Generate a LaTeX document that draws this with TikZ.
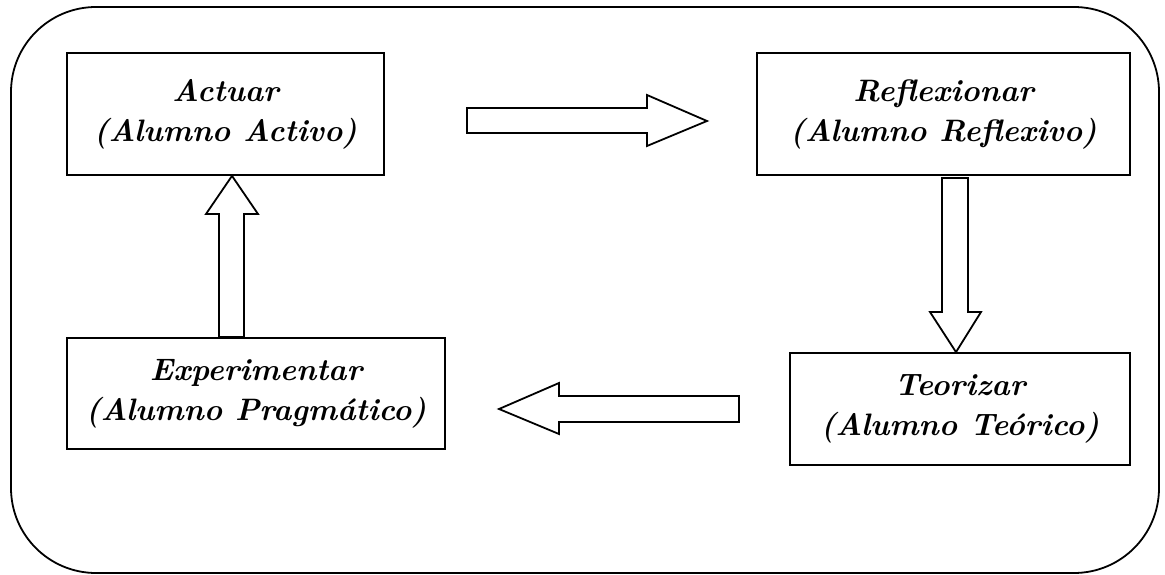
\documentclass[tikz,border=0pt]{standalone}
\usepackage{fontspec}
\usetikzlibrary{calc}
\begin{document}
\begin{tikzpicture}[x=1pt,y=-1pt,
  box/.style={draw, line width=1.8pt, align=center, inner sep=0pt,
    font=\fontsize{31}{40}\selectfont\bfseries\itshape},
  blockarrow/.style={draw, line width=1.8pt, fill=white, line join=miter}]
\useasboundingbox (0,0) rectangle (1165,575);
\draw[line width=1.8pt, rounded corners=85pt] (11,7) rectangle (1159,573);
\node[box, minimum width=317pt, minimum height=122pt] (act) at (225.5,114) {Actuar\\(Alumno Activo)};
\node[box, minimum width=373pt, minimum height=122pt] (ref) at (943.5,114) {Reflexionar\\(Alumno Reflexivo)};
\node[box, minimum width=378pt, minimum height=111pt] (exp) at (256,393.5) {Experimentar\\(Alumno Pragm\'atico)};
\node[box, minimum width=340pt, minimum height=112pt] (teo) at (960,409) {Teorizar\\(Alumno Te\'orico)};
% right arrow
\draw[blockarrow] (467,108) -- (647,108) -- (647,95) -- (707,121) -- (647,146) -- (647,133) -- (467,133) -- cycle;
% down arrow
\draw[blockarrow] (942,178) -- (968,178) -- (968,312) -- (981,312) -- (teo.north -| 956,0) -- (930,312) -- (942,312) -- cycle;
% left arrow
\draw[blockarrow] (739,396) -- (559,396) -- (559,383) -- (499,409) -- (559,434) -- (559,422) -- (739,422) -- cycle;
% up arrow
\draw[blockarrow] (219,337) -- (219,214) -- (206,214) -- (act.south -| 232,0) -- (258,214) -- (244,214) -- (244,337) -- cycle;
\end{tikzpicture}
\end{document}
